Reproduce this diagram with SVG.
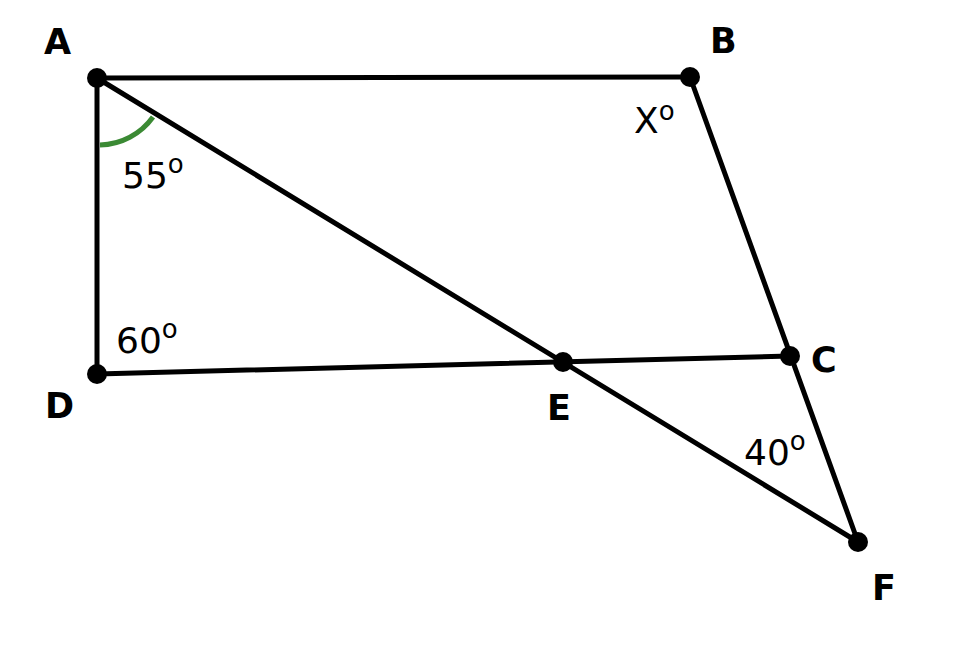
<svg xmlns="http://www.w3.org/2000/svg" width="975" height="645" viewBox="0 0 975 645">
<style>
.ln{stroke:#000;stroke-width:5;fill:none;stroke-linecap:round}
.pt{fill:#000}
.lbl{font-family:"DejaVu Sans",sans-serif;font-weight:bold;font-size:35px;fill:#000}
.ang{font-family:"DejaVu Sans",sans-serif;font-size:36px;fill:#000}
.sup{font-size:26px}
</style>
<rect width="975" height="645" fill="#fff"/>
<g id="connectors">
<line class="ln" x1="97" y1="78" x2="690" y2="77"/>
<line class="ln" x1="97" y1="78" x2="97" y2="374"/>
<line class="ln" x1="97" y1="374" x2="790" y2="356"/>
<line class="ln" x1="690" y1="77" x2="858" y2="542"/>
<line class="ln" x1="97" y1="78" x2="858" y2="542"/>
<path d="M100 145 A67 67 0 0 0 153 117" stroke="#3b8a34" stroke-width="5" fill="none"/>
</g>
<g id="A"><circle class="pt" cx="97" cy="78" r="10"/><text class="lbl" x="44" y="54">A</text></g>
<g id="B"><circle class="pt" cx="690" cy="77" r="10"/><text class="lbl" x="710" y="53">B</text></g>
<g id="C"><circle class="pt" cx="790" cy="356" r="10"/><text class="lbl" x="811" y="372">C</text></g>
<g id="D"><circle class="pt" cx="97" cy="374" r="10"/><text class="lbl" x="45" y="418">D</text></g>
<g id="E"><circle class="pt" cx="563" cy="362" r="10"/><text class="lbl" x="547" y="420">E</text></g>
<g id="F"><circle class="pt" cx="858" cy="542" r="10"/><text class="lbl" x="872" y="600">F</text></g>
<g id="angles">
<text class="ang" x="122" y="188">55<tspan class="sup" dy="-15">o</tspan></text>
<text class="ang" x="116" y="353">60<tspan class="sup" dy="-15">o</tspan></text>
<text class="ang" x="634" y="133">X<tspan class="sup" dy="-13">o</tspan></text>
<text class="ang" x="744" y="465">40<tspan class="sup" dy="-15">o</tspan></text>
</g>
</svg>
